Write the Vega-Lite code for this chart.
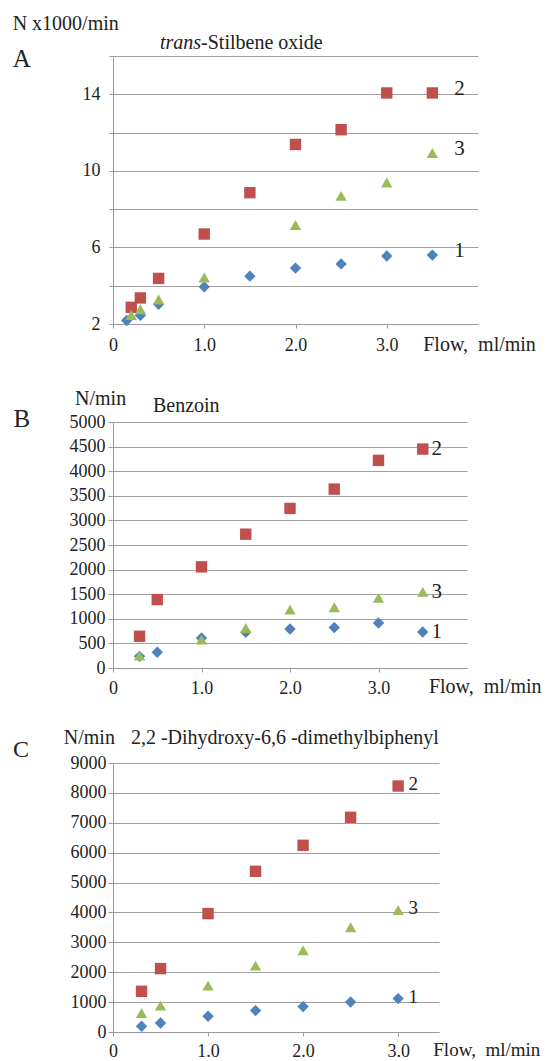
{
  "$schema": "https://vega.github.io/schema/vega-lite/v6.json",
  "autosize": {"type": "pad"},
  "padding": {"left": 12, "top": 14, "right": 0, "bottom": 0},
  "background": "white",
  "config": {
    "view": {"stroke": null},
    "axis": {
      "domainColor": "#9a9a9a",
      "gridColor": "#a0a0a0",
      "gridOpacity": 1,
      "gridWidth": 1.2,
      "tickColor": "#9a9a9a",
      "labelFont": "Liberation Serif",
      "labelFontSize": 18,
      "labelColor": "#222222",
      "labelOverlap": false,
      "titleFont": "Liberation Serif"
    },
    "text": {"font": "Liberation Serif", "color": "#222222"}
  },
  "datasets": {
    "a": [
      {"s": "1", "flow": 0.15, "n": 2.18}, {"s": "1", "flow": 0.3, "n": 2.45}, {"s": "1", "flow": 0.5, "n": 3.03},
      {"s": "1", "flow": 1.0, "n": 3.94}, {"s": "1", "flow": 1.5, "n": 4.5}, {"s": "1", "flow": 2.0, "n": 4.92},
      {"s": "1", "flow": 2.5, "n": 5.14}, {"s": "1", "flow": 3.0, "n": 5.55}, {"s": "1", "flow": 3.5, "n": 5.6},
      {"s": "2", "flow": 0.2, "n": 2.87}, {"s": "2", "flow": 0.3, "n": 3.36}, {"s": "2", "flow": 0.5, "n": 4.38},
      {"s": "2", "flow": 1.0, "n": 6.7}, {"s": "2", "flow": 1.5, "n": 8.86}, {"s": "2", "flow": 2.0, "n": 11.38},
      {"s": "2", "flow": 2.5, "n": 12.15}, {"s": "2", "flow": 3.0, "n": 14.07}, {"s": "2", "flow": 3.5, "n": 14.07},
      {"s": "3", "flow": 0.2, "n": 2.47}, {"s": "3", "flow": 0.3, "n": 2.77}, {"s": "3", "flow": 0.5, "n": 3.28},
      {"s": "3", "flow": 1.0, "n": 4.43}, {"s": "3", "flow": 2.0, "n": 7.17}, {"s": "3", "flow": 2.5, "n": 8.69},
      {"s": "3", "flow": 3.0, "n": 9.39}, {"s": "3", "flow": 3.5, "n": 10.93}
    ],
    "b": [
      {"s": "1", "flow": 0.3, "n": 237}, {"s": "1", "flow": 0.5, "n": 319}, {"s": "1", "flow": 1.0, "n": 610},
      {"s": "1", "flow": 1.5, "n": 726}, {"s": "1", "flow": 2.0, "n": 794}, {"s": "1", "flow": 2.5, "n": 821},
      {"s": "1", "flow": 3.0, "n": 916}, {"s": "1", "flow": 3.5, "n": 733},
      {"s": "2", "flow": 0.3, "n": 645}, {"s": "2", "flow": 0.5, "n": 1391}, {"s": "2", "flow": 1.0, "n": 2056},
      {"s": "2", "flow": 1.5, "n": 2720}, {"s": "2", "flow": 2.0, "n": 3243}, {"s": "2", "flow": 2.5, "n": 3636},
      {"s": "2", "flow": 3.0, "n": 4220}, {"s": "2", "flow": 3.5, "n": 4450},
      {"s": "3", "flow": 0.3, "n": 251}, {"s": "3", "flow": 1.0, "n": 577}, {"s": "3", "flow": 1.5, "n": 814},
      {"s": "3", "flow": 2.0, "n": 1187}, {"s": "3", "flow": 2.5, "n": 1235}, {"s": "3", "flow": 3.0, "n": 1425},
      {"s": "3", "flow": 3.5, "n": 1547}
    ],
    "c": [
      {"s": "1", "flow": 0.3, "n": 191}, {"s": "1", "flow": 0.5, "n": 301}, {"s": "1", "flow": 1.0, "n": 525},
      {"s": "1", "flow": 1.5, "n": 716}, {"s": "1", "flow": 2.0, "n": 850}, {"s": "1", "flow": 2.5, "n": 1004},
      {"s": "1", "flow": 3.0, "n": 1117},
      {"s": "2", "flow": 0.3, "n": 1362}, {"s": "2", "flow": 0.5, "n": 2121}, {"s": "2", "flow": 1.0, "n": 3961},
      {"s": "2", "flow": 1.5, "n": 5376}, {"s": "2", "flow": 2.0, "n": 6246}, {"s": "2", "flow": 2.5, "n": 7183},
      {"s": "2", "flow": 3.0, "n": 8230},
      {"s": "3", "flow": 0.3, "n": 636}, {"s": "3", "flow": 0.5, "n": 883}, {"s": "3", "flow": 1.0, "n": 1552},
      {"s": "3", "flow": 1.5, "n": 2221}, {"s": "3", "flow": 2.0, "n": 2733}, {"s": "3", "flow": 2.5, "n": 3503},
      {"s": "3", "flow": 3.0, "n": 4082}
    ],
    "one": [{}]
  },
  "bounds": "flush",
  "spacing": 98,
  "vconcat": [
    {
      "width": 365,
      "height": 268,
      "layer": [
        {
          "data": {"name": "a"},
          "mark": {"type": "point", "filled": true, "size": 130, "opacity": 1},
          "encoding": {
            "x": {"field": "flow", "type": "quantitative", "scale": {"domain": [0, 4], "nice": false, "zero": false},
              "axis": {"values": [0, 1, 2, 3], "labelExpr": "datum.value == 0 ? '0' : format(datum.value, '.1f')", "title": null, "grid": false, "labelFlush": false, "tickSize": 4, "labelPadding": 8, "labelFont": "Liberation Serif"}},
            "y": {"field": "n", "type": "quantitative", "scale": {"domain": [2, 16], "nice": false, "zero": false},
              "axis": {"values": [2, 4, 6, 8, 10, 12, 14, 16], "labelExpr": "indexof([2, 6, 10, 14], datum.value) >= 0 ? datum.label : ''", "title": null, "grid": true, "tickSize": 4, "labelPadding": 9, "labelFont": "Liberation Serif"}},
            "color": {"field": "s", "type": "nominal", "scale": {"domain": ["1", "2", "3"], "range": ["#4F81BD", "#C0504D", "#9BBB59"]}, "legend": null},
            "shape": {"field": "s", "type": "nominal", "scale": {"domain": ["1", "2", "3"], "range": ["diamond", "square", "triangle-up"]}, "legend": null}
          }
        },
        {
          "data": {"name": "a"},
          "transform": [
            {"joinaggregate": [{"op": "max", "field": "flow", "as": "mx"}], "groupby": ["s"]},
            {"filter": "datum.flow == datum.mx"}
          ],
          "mark": {"type": "text", "dx": 27, "dy": -4, "align": "center", "baseline": "middle", "fontSize": 21},
          "encoding": {
            "x": {"field": "flow", "type": "quantitative", "scale": {"domain": [0, 4], "nice": false, "zero": false},
              "axis": {"values": [0, 1, 2, 3], "labelExpr": "datum.value == 0 ? '0' : format(datum.value, '.1f')", "title": null, "grid": false, "labelFlush": false, "tickSize": 4, "labelPadding": 8, "labelFont": "Liberation Serif"}},
            "y": {"field": "n", "type": "quantitative", "scale": {"domain": [2, 16], "nice": false, "zero": false},
              "axis": {"values": [2, 4, 6, 8, 10, 12, 14, 16], "labelExpr": "indexof([2, 6, 10, 14], datum.value) >= 0 ? datum.label : ''", "title": null, "grid": true, "tickSize": 4, "labelPadding": 9, "labelFont": "Liberation Serif"}},
            "text": {"field": "s"}
          }
        },
        {
          "data": {"name": "one"},
          "mark": {"type": "text", "align": "left", "baseline": "middle", "fontSize": 20},
          "encoding": {
            "x": {"datum": -1.1, "type": "quantitative", "scale": {"domain": [0, 4], "nice": false, "zero": false},
              "axis": {"values": [0, 1, 2, 3], "labelExpr": "datum.value == 0 ? '0' : format(datum.value, '.1f')", "title": null, "grid": false, "labelFlush": false, "tickSize": 4, "labelPadding": 8, "labelFont": "Liberation Serif"}},
            "y": {"datum": 17.67, "type": "quantitative", "scale": {"domain": [2, 16], "nice": false, "zero": false},
              "axis": {"values": [2, 4, 6, 8, 10, 12, 14, 16], "labelExpr": "indexof([2, 6, 10, 14], datum.value) >= 0 ? datum.label : ''", "title": null, "grid": true, "tickSize": 4, "labelPadding": 9, "labelFont": "Liberation Serif"}},
            "text": {"value": "N x1000/min"}
          }
        },
        {
          "data": {"name": "one"},
          "mark": {"type": "text", "align": "left", "baseline": "middle", "fontSize": 25},
          "encoding": {
            "x": {"datum": -1.1, "type": "quantitative", "scale": {"domain": [0, 4], "nice": false, "zero": false},
              "axis": {"values": [0, 1, 2, 3], "labelExpr": "datum.value == 0 ? '0' : format(datum.value, '.1f')", "title": null, "grid": false, "labelFlush": false, "tickSize": 4, "labelPadding": 8, "labelFont": "Liberation Serif"}},
            "y": {"datum": 15.84, "type": "quantitative", "scale": {"domain": [2, 16], "nice": false, "zero": false},
              "axis": {"values": [2, 4, 6, 8, 10, 12, 14, 16], "labelExpr": "indexof([2, 6, 10, 14], datum.value) >= 0 ? datum.label : ''", "title": null, "grid": true, "tickSize": 4, "labelPadding": 9, "labelFont": "Liberation Serif"}},
            "text": {"value": "A"}
          }
        },
        {
          "data": {"name": "one"},
          "mark": {"type": "text", "align": "right", "baseline": "middle", "fontSize": 20, "fontStyle": "italic"},
          "encoding": {
            "x": {"datum": 0.965, "type": "quantitative", "scale": {"domain": [0, 4], "nice": false, "zero": false},
              "axis": {"values": [0, 1, 2, 3], "labelExpr": "datum.value == 0 ? '0' : format(datum.value, '.1f')", "title": null, "grid": false, "labelFlush": false, "tickSize": 4, "labelPadding": 8, "labelFont": "Liberation Serif"}},
            "y": {"datum": 16.68, "type": "quantitative", "scale": {"domain": [2, 16], "nice": false, "zero": false},
              "axis": {"values": [2, 4, 6, 8, 10, 12, 14, 16], "labelExpr": "indexof([2, 6, 10, 14], datum.value) >= 0 ? datum.label : ''", "title": null, "grid": true, "tickSize": 4, "labelPadding": 9, "labelFont": "Liberation Serif"}},
            "text": {"value": "trans"}
          }
        },
        {
          "data": {"name": "one"},
          "mark": {"type": "text", "align": "left", "baseline": "middle", "fontSize": 20},
          "encoding": {
            "x": {"datum": 0.965, "type": "quantitative", "scale": {"domain": [0, 4], "nice": false, "zero": false},
              "axis": {"values": [0, 1, 2, 3], "labelExpr": "datum.value == 0 ? '0' : format(datum.value, '.1f')", "title": null, "grid": false, "labelFlush": false, "tickSize": 4, "labelPadding": 8, "labelFont": "Liberation Serif"}},
            "y": {"datum": 16.68, "type": "quantitative", "scale": {"domain": [2, 16], "nice": false, "zero": false},
              "axis": {"values": [2, 4, 6, 8, 10, 12, 14, 16], "labelExpr": "indexof([2, 6, 10, 14], datum.value) >= 0 ? datum.label : ''", "title": null, "grid": true, "tickSize": 4, "labelPadding": 9, "labelFont": "Liberation Serif"}},
            "text": {"value": "-Stilbene oxide"}
          }
        },
        {
          "data": {"name": "one"},
          "mark": {"type": "text", "align": "left", "baseline": "middle", "fontSize": 20},
          "encoding": {
            "x": {"datum": 3.4, "type": "quantitative", "scale": {"domain": [0, 4], "nice": false, "zero": false},
              "axis": {"values": [0, 1, 2, 3], "labelExpr": "datum.value == 0 ? '0' : format(datum.value, '.1f')", "title": null, "grid": false, "labelFlush": false, "tickSize": 4, "labelPadding": 8, "labelFont": "Liberation Serif"}},
            "y": {"datum": 0.92, "type": "quantitative", "scale": {"domain": [2, 16], "nice": false, "zero": false},
              "axis": {"values": [2, 4, 6, 8, 10, 12, 14, 16], "labelExpr": "indexof([2, 6, 10, 14], datum.value) >= 0 ? datum.label : ''", "title": null, "grid": true, "tickSize": 4, "labelPadding": 9, "labelFont": "Liberation Serif"}},
            "text": {"value": "Flow,\u00a0 ml/min"}
          }
        }
      ]
    },
    {
      "bounds": "flush",
      "spacing": 95,
      "vconcat": [
        {
          "width": 354,
          "height": 246,
          "layer": [
            {
              "data": {"name": "b"},
              "mark": {"type": "point", "filled": true, "size": 130, "opacity": 1},
              "encoding": {
                "x": {"field": "flow", "type": "quantitative", "scale": {"domain": [0, 4], "nice": false, "zero": false},
                  "axis": {"values": [0, 1, 2, 3], "labelExpr": "datum.value == 0 ? '0' : format(datum.value, '.1f')", "title": null, "grid": false, "labelFlush": false, "tickSize": 4, "labelPadding": 7, "labelFont": "Liberation Serif"}},
                "y": {"field": "n", "type": "quantitative", "scale": {"domain": [0, 5000], "nice": false, "zero": false},
                  "axis": {"values": [0, 500, 1000, 1500, 2000, 2500, 3000, 3500, 4000, 4500, 5000], "format": "d", "labelFlush": false, "title": null, "grid": true, "tickSize": 5, "labelPadding": 3, "labelFont": "Liberation Serif"}},
                "color": {"field": "s", "type": "nominal", "scale": {"domain": ["1", "2", "3"], "range": ["#4F81BD", "#C0504D", "#9BBB59"]}, "legend": null},
                "shape": {"field": "s", "type": "nominal", "scale": {"domain": ["1", "2", "3"], "range": ["diamond", "square", "triangle-up"]}, "legend": null}
              }
            },
            {
              "data": {"name": "b"},
              "transform": [
                {"joinaggregate": [{"op": "max", "field": "flow", "as": "mx"}], "groupby": ["s"]},
                {"filter": "datum.flow == datum.mx"}
              ],
              "mark": {"type": "text", "dx": 14, "dy": 0, "align": "center", "baseline": "middle", "fontSize": 21},
              "encoding": {
                "x": {"field": "flow", "type": "quantitative", "scale": {"domain": [0, 4], "nice": false, "zero": false},
                  "axis": {"values": [0, 1, 2, 3], "labelExpr": "datum.value == 0 ? '0' : format(datum.value, '.1f')", "title": null, "grid": false, "labelFlush": false, "tickSize": 4, "labelPadding": 7, "labelFont": "Liberation Serif"}},
                "y": {"field": "n", "type": "quantitative", "scale": {"domain": [0, 5000], "nice": false, "zero": false},
                  "axis": {"values": [0, 500, 1000, 1500, 2000, 2500, 3000, 3500, 4000, 4500, 5000], "format": "d", "labelFlush": false, "title": null, "grid": true, "tickSize": 5, "labelPadding": 3, "labelFont": "Liberation Serif"}},
                "text": {"field": "s"}
              }
            },
            {
              "data": {"name": "one"},
              "mark": {"type": "text", "align": "left", "baseline": "middle", "fontSize": 20},
              "encoding": {
                "x": {"datum": -0.429, "type": "quantitative", "scale": {"domain": [0, 4], "nice": false, "zero": false},
                  "axis": {"values": [0, 1, 2, 3], "labelExpr": "datum.value == 0 ? '0' : format(datum.value, '.1f')", "title": null, "grid": false, "labelFlush": false, "tickSize": 4, "labelPadding": 7, "labelFont": "Liberation Serif"}},
                "y": {"datum": 5468, "type": "quantitative", "scale": {"domain": [0, 5000], "nice": false, "zero": false},
                  "axis": {"values": [0, 500, 1000, 1500, 2000, 2500, 3000, 3500, 4000, 4500, 5000], "format": "d", "labelFlush": false, "title": null, "grid": true, "tickSize": 5, "labelPadding": 3, "labelFont": "Liberation Serif"}},
                "text": {"value": "N/min"}
              }
            },
            {
              "data": {"name": "one"},
              "mark": {"type": "text", "align": "left", "baseline": "middle", "fontSize": 20},
              "encoding": {
                "x": {"datum": 0.451, "type": "quantitative", "scale": {"domain": [0, 4], "nice": false, "zero": false},
                  "axis": {"values": [0, 1, 2, 3], "labelExpr": "datum.value == 0 ? '0' : format(datum.value, '.1f')", "title": null, "grid": false, "labelFlush": false, "tickSize": 4, "labelPadding": 7, "labelFont": "Liberation Serif"}},
                "y": {"datum": 5326, "type": "quantitative", "scale": {"domain": [0, 5000], "nice": false, "zero": false},
                  "axis": {"values": [0, 500, 1000, 1500, 2000, 2500, 3000, 3500, 4000, 4500, 5000], "format": "d", "labelFlush": false, "title": null, "grid": true, "tickSize": 5, "labelPadding": 3, "labelFont": "Liberation Serif"}},
                "text": {"value": "Benzoin"}
              }
            },
            {
              "data": {"name": "one"},
              "mark": {"type": "text", "align": "left", "baseline": "middle", "fontSize": 25},
              "encoding": {
                "x": {"datum": -1.125, "type": "quantitative", "scale": {"domain": [0, 4], "nice": false, "zero": false},
                  "axis": {"values": [0, 1, 2, 3], "labelExpr": "datum.value == 0 ? '0' : format(datum.value, '.1f')", "title": null, "grid": false, "labelFlush": false, "tickSize": 4, "labelPadding": 7, "labelFont": "Liberation Serif"}},
                "y": {"datum": 5061, "type": "quantitative", "scale": {"domain": [0, 5000], "nice": false, "zero": false},
                  "axis": {"values": [0, 500, 1000, 1500, 2000, 2500, 3000, 3500, 4000, 4500, 5000], "format": "d", "labelFlush": false, "title": null, "grid": true, "tickSize": 5, "labelPadding": 3, "labelFont": "Liberation Serif"}},
                "text": {"value": "B"}
              }
            },
            {
              "data": {"name": "one"},
              "mark": {"type": "text", "align": "left", "baseline": "middle", "fontSize": 20},
              "encoding": {
                "x": {"datum": 3.57, "type": "quantitative", "scale": {"domain": [0, 4], "nice": false, "zero": false},
                  "axis": {"values": [0, 1, 2, 3], "labelExpr": "datum.value == 0 ? '0' : format(datum.value, '.1f')", "title": null, "grid": false, "labelFlush": false, "tickSize": 4, "labelPadding": 7, "labelFont": "Liberation Serif"}},
                "y": {"datum": -393, "type": "quantitative", "scale": {"domain": [0, 5000], "nice": false, "zero": false},
                  "axis": {"values": [0, 500, 1000, 1500, 2000, 2500, 3000, 3500, 4000, 4500, 5000], "format": "d", "labelFlush": false, "title": null, "grid": true, "tickSize": 5, "labelPadding": 3, "labelFont": "Liberation Serif"}},
                "text": {"value": "Flow,\u00a0 ml/min"}
              }
            }
          ]
        },
        {
          "width": 326,
          "height": 269,
          "layer": [
            {
              "data": {"name": "c"},
              "mark": {"type": "point", "filled": true, "size": 130, "opacity": 1},
              "encoding": {
                "x": {"field": "flow", "type": "quantitative", "scale": {"domain": [0, 3.43], "nice": false, "zero": false},
                  "axis": {"values": [0, 1, 2, 3], "labelExpr": "datum.value == 0 ? '0' : format(datum.value, '.1f')", "title": null, "grid": false, "labelFlush": false, "tickSize": 4, "labelPadding": 6, "labelFont": "Liberation Serif"}},
                "y": {"field": "n", "type": "quantitative", "scale": {"domain": [0, 9000], "nice": false, "zero": false},
                  "axis": {"values": [0, 1000, 2000, 3000, 4000, 5000, 6000, 7000, 8000, 9000], "format": "d", "labelFlush": false, "title": null, "grid": true, "tickSize": 5, "labelPadding": 2, "labelFont": "Liberation Serif"}},
                "color": {"field": "s", "type": "nominal", "scale": {"domain": ["1", "2", "3"], "range": ["#4F81BD", "#C0504D", "#9BBB59"]}, "legend": null},
                "shape": {"field": "s", "type": "nominal", "scale": {"domain": ["1", "2", "3"], "range": ["diamond", "square", "triangle-up"]}, "legend": null}
              }
            },
            {
              "data": {"name": "c"},
              "transform": [
                {"joinaggregate": [{"op": "max", "field": "flow", "as": "mx"}], "groupby": ["s"]},
                {"filter": "datum.flow == datum.mx"}
              ],
              "mark": {"type": "text", "dx": 15, "dy": -2, "align": "center", "baseline": "middle", "fontSize": 19},
              "encoding": {
                "x": {"field": "flow", "type": "quantitative", "scale": {"domain": [0, 3.43], "nice": false, "zero": false},
                  "axis": {"values": [0, 1, 2, 3], "labelExpr": "datum.value == 0 ? '0' : format(datum.value, '.1f')", "title": null, "grid": false, "labelFlush": false, "tickSize": 4, "labelPadding": 6, "labelFont": "Liberation Serif"}},
                "y": {"field": "n", "type": "quantitative", "scale": {"domain": [0, 9000], "nice": false, "zero": false},
                  "axis": {"values": [0, 1000, 2000, 3000, 4000, 5000, 6000, 7000, 8000, 9000], "format": "d", "labelFlush": false, "title": null, "grid": true, "tickSize": 5, "labelPadding": 2, "labelFont": "Liberation Serif"}},
                "text": {"field": "s"}
              }
            },
            {
              "data": {"name": "one"},
              "mark": {"type": "text", "align": "left", "baseline": "middle", "fontSize": 20},
              "encoding": {
                "x": {"datum": -0.518, "type": "quantitative", "scale": {"domain": [0, 3.43], "nice": false, "zero": false},
                  "axis": {"values": [0, 1, 2, 3], "labelExpr": "datum.value == 0 ? '0' : format(datum.value, '.1f')", "title": null, "grid": false, "labelFlush": false, "tickSize": 4, "labelPadding": 6, "labelFont": "Liberation Serif"}},
                "y": {"datum": 9837, "type": "quantitative", "scale": {"domain": [0, 9000], "nice": false, "zero": false},
                  "axis": {"values": [0, 1000, 2000, 3000, 4000, 5000, 6000, 7000, 8000, 9000], "format": "d", "labelFlush": false, "title": null, "grid": true, "tickSize": 5, "labelPadding": 2, "labelFont": "Liberation Serif"}},
                "text": {"value": "N/min"}
              }
            },
            {
              "data": {"name": "one"},
              "mark": {"type": "text", "align": "left", "baseline": "middle", "fontSize": 20},
              "encoding": {
                "x": {"datum": 0.189, "type": "quantitative", "scale": {"domain": [0, 3.43], "nice": false, "zero": false},
                  "axis": {"values": [0, 1, 2, 3], "labelExpr": "datum.value == 0 ? '0' : format(datum.value, '.1f')", "title": null, "grid": false, "labelFlush": false, "tickSize": 4, "labelPadding": 6, "labelFont": "Liberation Serif"}},
                "y": {"datum": 9837, "type": "quantitative", "scale": {"domain": [0, 9000], "nice": false, "zero": false},
                  "axis": {"values": [0, 1000, 2000, 3000, 4000, 5000, 6000, 7000, 8000, 9000], "format": "d", "labelFlush": false, "title": null, "grid": true, "tickSize": 5, "labelPadding": 2, "labelFont": "Liberation Serif"}},
                "text": {"value": "2,2 -Dihydroxy-6,6 -dimethylbiphenyl"}
              }
            },
            {
              "data": {"name": "one"},
              "mark": {"type": "text", "align": "left", "baseline": "middle", "fontSize": 24},
              "encoding": {
                "x": {"datum": -1.053, "type": "quantitative", "scale": {"domain": [0, 3.43], "nice": false, "zero": false},
                  "axis": {"values": [0, 1, 2, 3], "labelExpr": "datum.value == 0 ? '0' : format(datum.value, '.1f')", "title": null, "grid": false, "labelFlush": false, "tickSize": 4, "labelPadding": 6, "labelFont": "Liberation Serif"}},
                "y": {"datum": 9426, "type": "quantitative", "scale": {"domain": [0, 9000], "nice": false, "zero": false},
                  "axis": {"values": [0, 1000, 2000, 3000, 4000, 5000, 6000, 7000, 8000, 9000], "format": "d", "labelFlush": false, "title": null, "grid": true, "tickSize": 5, "labelPadding": 2, "labelFont": "Liberation Serif"}},
                "text": {"value": "C"}
              }
            },
            {
              "data": {"name": "one"},
              "mark": {"type": "text", "align": "left", "baseline": "middle", "fontSize": 19},
              "encoding": {
                "x": {"datum": 3.37, "type": "quantitative", "scale": {"domain": [0, 3.43], "nice": false, "zero": false},
                  "axis": {"values": [0, 1, 2, 3], "labelExpr": "datum.value == 0 ? '0' : format(datum.value, '.1f')", "title": null, "grid": false, "labelFlush": false, "tickSize": 4, "labelPadding": 6, "labelFont": "Liberation Serif"}},
                "y": {"datum": -600, "type": "quantitative", "scale": {"domain": [0, 9000], "nice": false, "zero": false},
                  "axis": {"values": [0, 1000, 2000, 3000, 4000, 5000, 6000, 7000, 8000, 9000], "format": "d", "labelFlush": false, "title": null, "grid": true, "tickSize": 5, "labelPadding": 2, "labelFont": "Liberation Serif"}},
                "text": {"value": "Flow,\u00a0 ml/min"}
              }
            }
          ]
        }
      ]
    }
  ]
}
